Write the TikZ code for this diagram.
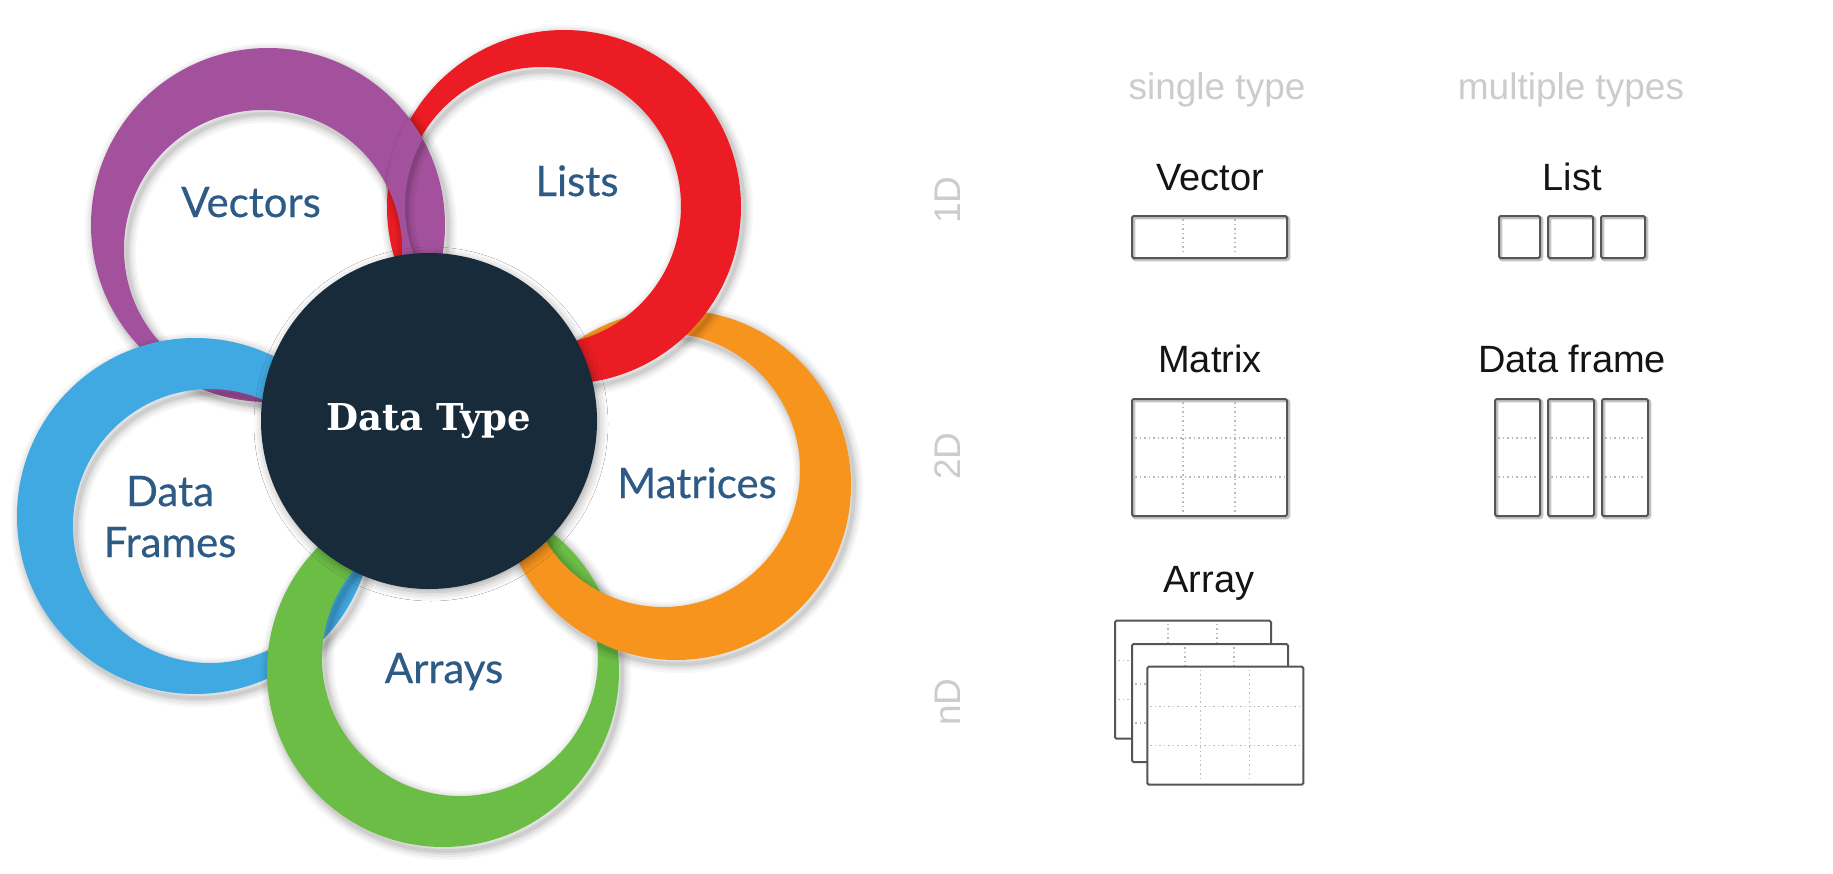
\documentclass[tikz,border=0pt]{standalone}
\usepackage{fontspec}
\usetikzlibrary{shadows.blur}
\newfontfamily\latofont[FakeBold=0.5]{Lato}
\newfontfamily\slabfont{DejaVu Serif}
\newfontfamily\helvfont{Liberation Sans}

\definecolor{ringpurple}{HTML}{A4519D}
\definecolor{ringred}{HTML}{EC1C24}
\definecolor{ringorange}{HTML}{F7941E}
\definecolor{ringgreen}{HTML}{6CBD45}
\definecolor{ringblue}{HTML}{41A9E1}
\definecolor{hubdark}{HTML}{182B3A}
\definecolor{labelblue}{HTML}{2D5B85}
\definecolor{lightlabel}{HTML}{CCCCCC}
\definecolor{boxline}{HTML}{555555}
\definecolor{boxhalo}{HTML}{C4C4C4}
\definecolor{gridgray}{HTML}{BBBBBB}

\tikzset{
  ring/.style={fill=#1, even odd rule},
  ringshade/.style={draw=black, line width=#1},
  ringlabel/.style={font=\latofont\fontsize{42}{50}\selectfont,
                    text=labelblue, anchor=base, inner sep=0pt},
  hublabel/.style={font=\slabfont\bfseries\fontsize{37}{44}\selectfont,
                   text=white, anchor=base, inner sep=0pt},
  caption/.style={font=\helvfont\fontsize{38}{45}\selectfont,
                  text=black!92, anchor=base, inner sep=0pt},
  axislabel/.style={font=\helvfont\fontsize{37}{44}\selectfont,
                    text=lightlabel, anchor=base, inner sep=0pt},
  dimlabel/.style={font=\helvfont\fontsize{37}{44}\selectfont,
                   text=lightlabel, rotate=90, inner sep=0pt},
  cellbox/.style={draw=boxline, line width=2pt, rounded corners=1.5pt},
  cellhalo/.style={draw=boxhalo, line width=3.5pt, rounded corners=2pt},
  gridline/.style={draw=gridgray, line width=1.3pt, dash pattern=on 1.5pt off 3pt},
}

% one ring with its soft drop shadow:
% colour, outer centre, outer radius, inner centre, inner radius
\newcommand\flowerring[5]{%
  \foreach \sw/\so in {18/0.035,13/0.045,8/0.055,4/0.07}{
    \draw[ringshade=\sw pt, opacity=\so]
      ([shift={(3,4)}]#2) circle[radius=#3pt]
      ([shift={(3,4)}]#4) circle[radius=#5pt];
  }
  \fill[ring=#1] (#2) circle[radius=#3pt] (#4) circle[radius=#5pt];}

\begin{document}
\begin{tikzpicture}[x=1pt, y=-1pt]
  \useasboundingbox (0,0) rectangle (1833,873);
  \fill[white] (0,0) rectangle (1833,873);

  % ring centres
  \coordinate (vecO) at (268,225);  \coordinate (vecI) at (263,249);
  \coordinate (lstO) at (564,207);  \coordinate (lstI) at (542,206);
  \coordinate (matO) at (676,485);  \coordinate (matI) at (663,470);
  \coordinate (arrO) at (443,671);  \coordinate (arrI) at (460,658);
  \coordinate (dfrO) at (195,516);  \coordinate (dfrI) at (210,526);
  \coordinate (hub)  at (429,421);

  % interlaced rings
  \flowerring{ringpurple}{vecO}{177}{vecI}{139}
  \flowerring{ringblue}{dfrO}{178}{dfrI}{137}
  \flowerring{ringgreen}{arrO}{176}{arrI}{138}
  \flowerring{ringorange}{matO}{175}{matI}{137}
  \flowerring{ringred}{lstO}{177}{lstI}{139}
  % the purple ring passes over the red one
  \begin{scope}
    \clip (335,0) rectangle (480,300);
    \begin{scope}[even odd rule]
      \clip (lstO) circle[radius=179pt] (lstI) circle[radius=137pt];
      \flowerring{ringpurple}{vecO}{177}{vecI}{139}
    \end{scope}
  \end{scope}

  % central disc
  \fill[hubdark, blur shadow={shadow xshift=2pt, shadow yshift=-3pt,
        shadow blur radius=9pt, shadow opacity=35}]
    (hub) circle[radius=168pt];

  \node[hublabel] (datatype) at (429,430) {Data Type};
  \node[ringlabel] (vectors)  at (251,217) {Vectors};
  \node[ringlabel] (lists)    at (577,196) {Lists};
  \node[ringlabel] (matrices) at (697,498) {Matrices};
  \node[ringlabel] (dfone)    at (170,506) {Data};
  \node[ringlabel] (dftwo)    at (170,557) {Frames};
  \node[ringlabel] (arrays)   at (444,683) {Arrays};

  % column and row headings
  \node[axislabel] (single) at (1217,99) {single type};
  \node[axislabel] (multi)  at (1571,99) {multiple types};
  \node[dimlabel] (oned) at (948,200) {1D};
  \node[dimlabel] (twod) at (948,456) {2D};
  \node[dimlabel] (nd)   at (948,702) {nD};

  % vector
  \node[caption] (vector) at (1210,190) {Vector};
  \draw[cellhalo] (1133.5,217.5) rectangle (1288.5,259.5);
  \draw[cellbox] (1132,216) rectangle (1287,258);
  \foreach \gx in {1183,1235} \draw[gridline] (\gx,219) -- (\gx,255);

  % list
  \node[caption] (list) at (1572,190) {List};
  \foreach \lx/\rx in {1499/1540,1548/1593,1601/1645}{
    \draw[cellhalo] (\lx+1.5,217.5) rectangle (\rx+1.5,259.5);
    \draw[cellbox] (\lx,216) rectangle (\rx,258);
  }

  % matrix
  \node[caption] (matrix) at (1210,372) {Matrix};
  \foreach \gx in {1183,1235} \draw[gridline] (\gx,402) -- (\gx,513);
  \foreach \gy in {438,477} \draw[gridline] (1135,\gy) -- (1284,\gy);
  \draw[cellhalo] (1133.5,400.5) rectangle (1288.5,517.5);
  \draw[cellbox] (1132,399) rectangle (1287,516);

  % data frame
  \node[caption] (dataframe) at (1572,372) {Data frame};
  \foreach \lx/\rx in {1495/1540,1548/1594,1602/1648}{
    \foreach \gy in {438,477} \draw[gridline] (\lx+3,\gy) -- (\rx-3,\gy);
    \draw[cellhalo] (\lx+1.5,400.5) rectangle (\rx+1.5,517.5);
    \draw[cellbox] (\lx,399) rectangle (\rx,516);
  }

  % array: three stacked matrices
  \node[caption] (array) at (1209,592) {Array};
  \foreach \ax/\ay in {1115/620.7,1132/644,1147.3/666.7}{
    \fill[white] (\ax,\ay) rectangle ++(156,118);
    \foreach \gx in {53,102} \draw[gridline] (\ax+\gx,\ay+3) -- ++(0,112);
    \foreach \gy in {40,79} \draw[gridline] (\ax+3,\ay+\gy) -- ++(150,0);
    \draw[cellbox] (\ax,\ay) rectangle ++(156,118);
  }
\end{tikzpicture}
\end{document}
